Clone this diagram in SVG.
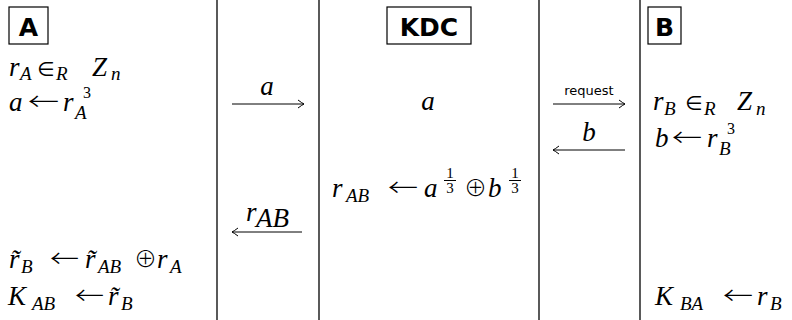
<svg xmlns="http://www.w3.org/2000/svg" width="792" height="320" viewBox="0 0 792 320">
<style>
.m{font-family:"Liberation Serif","DejaVu Serif",serif;font-style:italic;font-size:27px;fill:#000}
.s{font-size:19px}
.p{font-size:16px}
.t{font-size:15px}
.u{font-style:normal}
.op{font-family:"DejaVu Sans","DejaVu Serif",sans-serif;font-style:normal;font-size:20px;fill:#000}
.ox{font-family:"Noto Sans CJK JP","DejaVu Sans",sans-serif;font-style:normal;font-weight:300;font-size:23px;fill:#000}
.la{font-family:"Noto Sans CJK JP","DejaVu Sans",sans-serif;font-style:normal;font-weight:300;font-size:24px;fill:#000}
.sf{font-family:"DejaVu Sans","Liberation Sans",sans-serif;font-weight:bold;font-size:25px;fill:#000}
.req{font-family:"DejaVu Sans","Liberation Sans",sans-serif;font-size:13px;fill:#000}
.lane{stroke:#000;stroke-width:1.3}
.box{fill:#fff;stroke:#000;stroke-width:1.2}
.arr{stroke:#000;stroke-width:1;fill:none;marker-end:url(#ah)}
.bar{stroke:#000;stroke-width:1}
</style>
<defs>
<marker id="ah" viewBox="-8 -5 10 10" refX="0" refY="0" markerWidth="10" markerHeight="10" orient="auto" markerUnits="userSpaceOnUse">
<path d="M-6,-4 Q-2,-1 0,0 Q-2,1 -6,4" fill="none" stroke="#000" stroke-width="1"/>
</marker>
</defs>
<rect width="792" height="320" fill="#fff"/>
<g id="lanes">
<line class="lane" x1="217" y1="0" x2="217" y2="320"/>
<line class="lane" x1="319" y1="0" x2="319" y2="320"/>
<line class="lane" x1="539" y1="0" x2="539" y2="320"/>
<line class="lane" x1="640" y1="0" x2="640" y2="320"/>
</g>
<g id="node-A">
<rect class="box" x="9" y="7" width="39" height="37"/>
<text class="sf" x="28.5" y="36" text-anchor="middle">A</text>
<text class="m" x="9" y="76">r</text><text class="m s" x="20" y="80">A</text>
<text class="op" x="37" y="76">∈</text><text class="m s" x="56" y="80">R</text>
<text class="m" x="92" y="76">Z</text><text class="m s" x="111" y="80">n</text>
<text class="m" x="9" y="111">a</text>
<text class="la" x="28" y="110" textLength="31" lengthAdjust="spacingAndGlyphs">←</text>
<text class="m" x="63" y="111">r</text><text class="m s" x="75" y="119">A</text><text class="m u p" x="83" y="98">3</text>
<text class="m" x="9" y="268">r̃</text><text class="m s" x="21" y="273">B</text>
<text class="la" x="50" y="267" textLength="29" lengthAdjust="spacingAndGlyphs">←</text>
<text class="m" x="85" y="268">r̃</text><text class="m s" x="98" y="273">AB</text>
<text class="ox" x="134" y="267">⊕</text>
<text class="m" x="157" y="268">r</text><text class="m s" x="170" y="273">A</text>
<text class="m" x="8" y="305">K</text><text class="m s" x="32" y="310">AB</text>
<text class="la" x="75" y="304" textLength="29" lengthAdjust="spacingAndGlyphs">←</text>
<text class="m" x="108" y="305">r̃</text><text class="m s" x="121" y="310">B</text>
</g>
<g id="node-KDC">
<rect class="box" x="387" y="7" width="84" height="37"/>
<text class="sf" x="429" y="36" text-anchor="middle">KDC</text>
<text class="m" x="428" y="110" text-anchor="middle">a</text>
<text class="m" x="332" y="197">r</text><text class="m s" x="346" y="202">AB</text>
<text class="la" x="388" y="196" textLength="30" lengthAdjust="spacingAndGlyphs">←</text>
<text class="m" x="424" y="197">a</text>
<text class="m u t" x="450" y="178" text-anchor="middle">1</text>
<line class="bar" x1="444" y1="180.5" x2="456" y2="180.5"/>
<text class="m u t" x="450" y="193" text-anchor="middle">3</text>
<text class="ox" x="464" y="196">⊕</text>
<text class="m" x="488" y="197">b</text>
<text class="m u t" x="515" y="178" text-anchor="middle">1</text>
<line class="bar" x1="509" y1="180.5" x2="521" y2="180.5"/>
<text class="m u t" x="515" y="193" text-anchor="middle">3</text>
</g>
<g id="node-B">
<rect class="box" x="648" y="7" width="33" height="37"/>
<text class="sf" x="664.5" y="36" text-anchor="middle">B</text>
<text class="m" x="653" y="110">r</text><text class="m s" x="664" y="115">B</text>
<text class="op" x="685" y="110">∈</text><text class="m s" x="704" y="115">R</text>
<text class="m" x="737" y="110">Z</text><text class="m s" x="756" y="115">n</text>
<text class="m" x="655" y="147">b</text>
<text class="la" x="672" y="146" textLength="30" lengthAdjust="spacingAndGlyphs">←</text>
<text class="m" x="707" y="147">r</text><text class="m s" x="719" y="155">B</text><text class="m u p" x="727" y="134">3</text>
<text class="m" x="655" y="305">K</text><text class="m s" x="680" y="310">BA</text>
<text class="la" x="723" y="304" textLength="30" lengthAdjust="spacingAndGlyphs">←</text>
<text class="m" x="757" y="305">r</text><text class="m s" x="770" y="310">B</text>
</g>
<g id="connectors">
<line class="arr" x1="232" y1="104" x2="304" y2="104"/>
<text class="m" x="267" y="95" font-size="18" text-anchor="middle">a</text>
<line class="arr" x1="302" y1="232" x2="232" y2="232"/>
<text class="m" x="246" y="221" font-size="18">r</text><text class="m" x="256" y="227" font-size="13">AB</text>
<line class="arr" x1="553" y1="104" x2="625" y2="104"/>
<text class="req" x="589" y="95" text-anchor="middle">request</text>
<line class="arr" x1="625" y1="150" x2="553" y2="150"/>
<text class="m" x="589" y="141" font-size="18" text-anchor="middle">b</text>
</g>
</svg>
